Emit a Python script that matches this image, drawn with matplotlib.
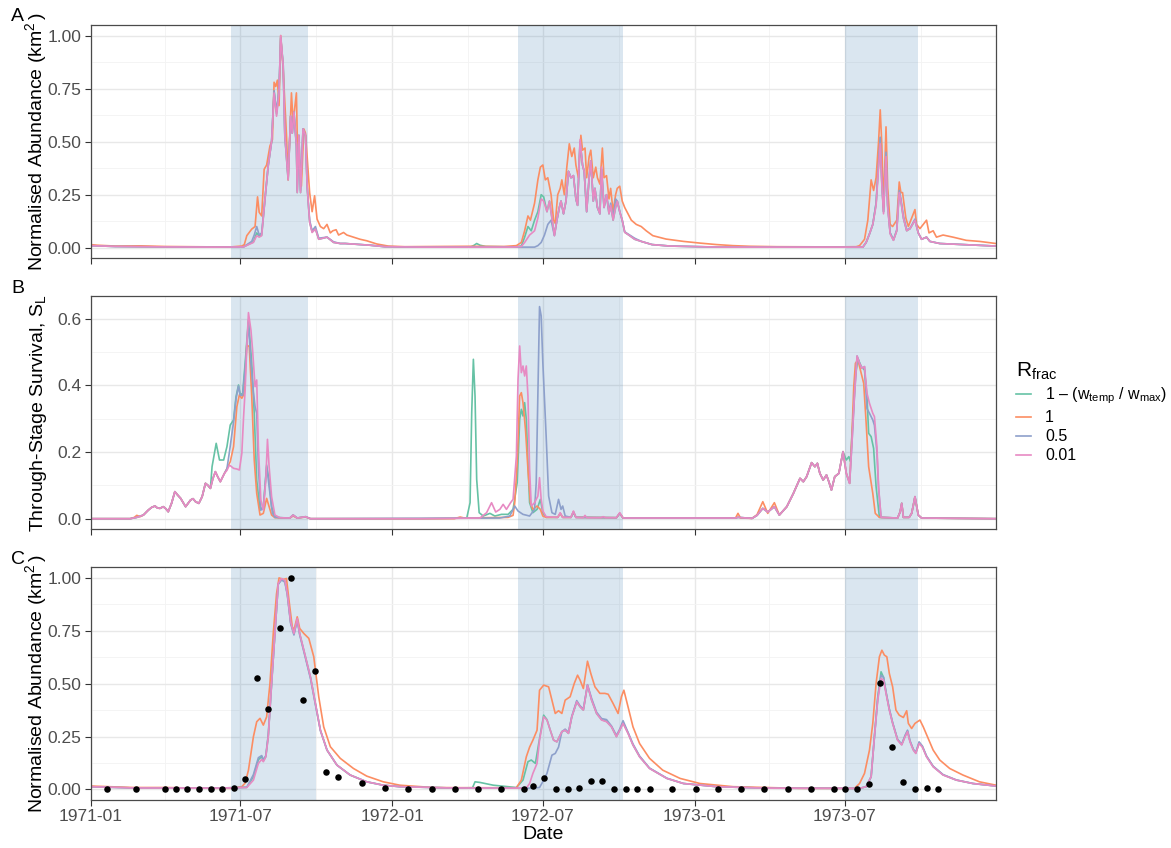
import numpy as np
import matplotlib
matplotlib.use("Agg")
import matplotlib.pyplot as plt
import matplotlib.dates as mdates

plt.rcParams['font.family'] = ['Liberation Sans', 'DejaVu Sans']
plt.rcParams['mathtext.fontset'] = 'custom'
plt.rcParams['mathtext.rm'] = 'Liberation Sans'
plt.rcParams['mathtext.it'] = 'Liberation Sans:italic'
plt.rcParams['mathtext.bf'] = 'Liberation Sans:bold'
plt.rcParams['mathtext.default'] = 'rm'

START = np.datetime64('1971-01-01')
END = np.datetime64('1973-12-31')

series_labels = ["1 – (w$_{temp}$ / w$_{max}$)", "1", "0.5", "0.01"]
series_colors = ["#66C2A5", "#FC8D62", "#8DA0CB", "#E78AC3"]

# shaded seasons (start, end)
seasons_ab = [("1971-06-20", "1971-09-21"), ("1972-06-01", "1972-10-06"), ("1973-07-01", "1973-09-28")]
seasons_c = [("1971-06-20", "1971-10-01"), ("1972-06-01", "1972-10-06"), ("1973-07-01", "1973-09-28")]

# ---------------- Panel A: normalised abundance (day since 1971-01-01, value) ----------------
a_orange = [(0,0.015),(8,0.012),(30,0.008),(60,0.009),(90,0.006),(120,0.005),(150,0.004),(170,0.004),(183,0.008),(186,0.015),(189,0.057),(195,0.088),(199,0.10),(202,0.24),(204,0.167),(207,0.15),(210,0.37),(213,0.39),(217,0.48),(220,0.51),(222,0.78),(224,0.76),(226,0.79),(228,0.67),(230,1.0),(233,0.84),(237,0.53),(239,0.32),(243,0.73),(245,0.59),(249,0.73),(250,0.53),(253,0.39),(255,0.29),(258,0.56),(260,0.54),(262,0.43),(265,0.26),(268,0.17),(271,0.245),(274,0.135),(278,0.10),(282,0.09),(286,0.11),(290,0.07),(293,0.08),(297,0.085),(300,0.06),(306,0.072),(310,0.06),(318,0.05),(326,0.04),(334,0.033),(346,0.018),(360,0.008),(380,0.005),(420,0.006),(460,0.007),(500,0.006),(515,0.01),(521,0.025),(525,0.08),(529,0.15),(532,0.13),(537,0.21),(541,0.32),(544,0.38),(547,0.39),(550,0.32),(553,0.33),(557,0.25),(560,0.13),(562,0.115),(565,0.25),(568,0.28),(570,0.32),(573,0.25),(576,0.38),(579,0.49),(582,0.43),(585,0.47),(587,0.39),(590,0.33),(593,0.53),(595,0.46),(598,0.47),(600,0.33),(603,0.43),(605,0.46),(608,0.33),(611,0.38),(613,0.33),(616,0.30),(619,0.47),(621,0.33),(624,0.34),(627,0.23),(629,0.28),(632,0.17),(635,0.25),(637,0.28),(640,0.29),(643,0.22),(646,0.19),(650,0.16),(654,0.13),(660,0.11),(666,0.10),(672,0.08),(680,0.057),(696,0.041),(717,0.03),(737,0.022),(757,0.015),(777,0.01),(797,0.007),(830,0.005),(900,0.004),(926,0.005),(930,0.01),(936,0.04),(940,0.13),(944,0.32),(947,0.27),(950,0.33),(953,0.5),(955,0.65),(957,0.48),(959,0.19),(962,0.57),(964,0.285),(967,0.11),(970,0.10),(975,0.13),(978,0.31),(980,0.26),(982,0.26),(986,0.14),(989,0.10),(993,0.14),(997,0.18),(999,0.11),(1003,0.09),(1007,0.11),(1011,0.13),(1014,0.07),(1019,0.08),(1023,0.05),(1031,0.06),(1043,0.05),(1059,0.035),(1075,0.03),(1095,0.02)]

a_pink = [(0,0.01),(30,0.006),(90,0.004),(150,0.003),(185,0.004),(197,0.025),(201,0.057),(204,0.05),(207,0.057),(211,0.23),(215,0.39),(219,0.5),(222,0.73),(225,0.62),(228,0.73),(230,1.0),(233,0.86),(235,0.53),(239,0.32),(242,0.62),(244,0.54),(246,0.64),(249,0.48),(250,0.26),(252,0.53),(254,0.26),(257,0.56),(260,0.53),(262,0.29),(265,0.12),(268,0.072),(272,0.088),(276,0.04),(286,0.05),(294,0.025),(302,0.02),(308,0.02),(338,0.012),(356,0.005),(400,0.003),(460,0.003),(510,0.003),(521,0.006),(525,0.025),(531,0.06),(537,0.08),(541,0.14),(545,0.23),(548,0.22),(552,0.17),(555,0.22),(558,0.14),(561,0.057),(564,0.13),(567,0.19),(569,0.22),(572,0.16),(575,0.22),(578,0.36),(581,0.33),(584,0.34),(587,0.23),(589,0.20),(592,0.51),(595,0.39),(597,0.36),(600,0.17),(603,0.33),(605,0.41),(608,0.22),(610,0.28),(613,0.19),(616,0.16),(618,0.38),(621,0.19),(624,0.25),(627,0.16),(629,0.20),(632,0.13),(635,0.19),(637,0.22),(640,0.17),(643,0.13),(646,0.073),(652,0.057),(658,0.04),(666,0.03),(679,0.015),(701,0.008),(761,0.003),(900,0.003),(934,0.003),(938,0.025),(942,0.065),(946,0.11),(950,0.2),(953,0.38),(955,0.49),(957,0.29),(959,0.16),(962,0.43),(964,0.19),(967,0.065),(971,0.035),(975,0.08),(978,0.26),(980,0.22),(983,0.14),(987,0.08),(991,0.09),(997,0.13),(1001,0.07),(1005,0.04),(1011,0.05),(1015,0.03),(1027,0.02),(1055,0.015),(1095,0.008)]

a_blue = [(0,0.01),(30,0.006),(90,0.004),(150,0.003),(185,0.004),(195,0.03),(198,0.06),(201,0.10),(204,0.06),(207,0.07),(211,0.23),(215,0.39),(219,0.5),(222,0.74),(225,0.64),(228,0.75),(230,0.99),(233,0.86),(235,0.53),(239,0.33),(242,0.62),(244,0.54),(246,0.64),(249,0.48),(250,0.27),(252,0.53),(254,0.27),(257,0.56),(260,0.53),(262,0.29),(265,0.13),(268,0.08),(272,0.10),(276,0.045),(286,0.05),(294,0.028),(302,0.02),(308,0.02),(338,0.012),(356,0.005),(400,0.003),(460,0.003),(537,0.003),(541,0.01),(545,0.025),(549,0.06),(553,0.11),(557,0.13),(561,0.057),(564,0.13),(567,0.19),(569,0.22),(572,0.16),(575,0.22),(578,0.36),(581,0.33),(584,0.34),(587,0.23),(589,0.20),(592,0.50),(595,0.39),(597,0.36),(600,0.17),(603,0.33),(605,0.41),(608,0.22),(610,0.28),(613,0.19),(616,0.16),(618,0.37),(621,0.19),(624,0.25),(627,0.17),(629,0.21),(632,0.14),(635,0.23),(637,0.22),(640,0.17),(643,0.13),(646,0.075),(652,0.06),(658,0.045),(666,0.03),(679,0.015),(701,0.008),(761,0.003),(900,0.003),(934,0.003),(938,0.025),(942,0.065),(946,0.11),(950,0.21),(953,0.40),(955,0.52),(957,0.30),(959,0.17),(962,0.45),(964,0.20),(967,0.07),(971,0.037),(975,0.085),(978,0.27),(980,0.23),(983,0.15),(987,0.085),(991,0.09),(997,0.135),(1001,0.07),(1005,0.04),(1011,0.05),(1015,0.03),(1027,0.02),(1055,0.015),(1095,0.008)]

a_green = [(0,0.01),(30,0.006),(90,0.004),(150,0.003),(185,0.004),(197,0.028),(201,0.07),(204,0.055),(207,0.06),(211,0.23),(215,0.39),(219,0.5),(222,0.74),(225,0.63),(228,0.74),(230,0.99),(233,0.86),(235,0.53),(239,0.32),(242,0.62),(244,0.54),(246,0.64),(249,0.48),(250,0.26),(252,0.53),(254,0.26),(257,0.56),(260,0.53),(262,0.29),(265,0.12),(268,0.075),(272,0.09),(276,0.04),(286,0.05),(294,0.025),(302,0.02),(308,0.02),(338,0.012),(356,0.005),(400,0.003),(460,0.004),(464,0.012),(467,0.02),(471,0.012),(478,0.006),(510,0.004),(521,0.008),(525,0.05),(529,0.10),(533,0.08),(537,0.13),(541,0.17),(545,0.25),(548,0.24),(552,0.17),(555,0.22),(558,0.14),(561,0.06),(564,0.13),(567,0.19),(569,0.22),(572,0.16),(575,0.22),(578,0.36),(581,0.33),(584,0.34),(587,0.23),(589,0.20),(592,0.50),(595,0.39),(597,0.36),(600,0.17),(603,0.33),(605,0.41),(608,0.22),(610,0.28),(613,0.19),(616,0.16),(618,0.37),(621,0.19),(624,0.25),(627,0.16),(629,0.20),(632,0.13),(635,0.19),(637,0.22),(640,0.17),(643,0.13),(646,0.073),(652,0.057),(658,0.04),(666,0.03),(679,0.015),(701,0.008),(761,0.003),(900,0.003),(934,0.003),(938,0.025),(942,0.065),(946,0.11),(950,0.21),(953,0.40),(955,0.52),(957,0.30),(959,0.17),(962,0.44),(964,0.20),(967,0.07),(971,0.036),(975,0.08),(978,0.27),(980,0.22),(983,0.14),(987,0.08),(991,0.09),(997,0.13),(1001,0.07),(1005,0.04),(1011,0.05),(1015,0.03),(1027,0.02),(1055,0.015),(1095,0.008)]

# ---------------- Panel B: through-stage survival ----------------
b_pink = [(0,0.0),(48,0.0),(56,0.004),(64,0.011),(70,0.026),(74,0.034),(78,0.038),(81,0.032),(84,0.031),(88,0.036),(91,0.03),(94,0.021),(98,0.046),(102,0.081),(105,0.072),(109,0.061),(115,0.036),(121,0.056),(124,0.06),(127,0.051),(131,0.046),(135,0.066),(139,0.106),(142,0.1),(145,0.091),(148,0.12),(151,0.141),(154,0.125),(157,0.111),(162,0.136),(165,0.145),(168,0.161),(171,0.155),(173,0.151),(177,0.149),(180,0.146),(183,0.196),(185,0.3),(187,0.386),(189,0.516),(191,0.618),(194,0.566),(196,0.506),(199,0.396),(201,0.416),(203,0.216),(206,0.056),(209,0.026),(212,0.116),(214,0.238),(216,0.156),(219,0.066),(223,0.011),(229,0.003),(241,0.002),(245,0.011),(250,0.002),(260,0.006),(266,0.0),(400,0.0),(471,0.002),(479,0.018),(485,0.048),(490,0.02),(495,0.028),(499,0.043),(503,0.028),(508,0.048),(511,0.058),(515,0.188),(517,0.418),(519,0.518),(521,0.438),(523,0.458),(525,0.428),(527,0.458),(529,0.368),(531,0.148),(533,0.038),(537,0.048),(541,0.068),(543,0.123),(545,0.058),(547,0.023),(551,0.006),(565,0.004),(568,0.018),(571,0.004),(581,0.004),(584,0.023),(587,0.004),(596,0.003),(598,0.01),(600,0.003),(617,0.003),(620,0.006),(623,0.003),(636,0.003),(640,0.018),(644,0.002),(780,0.002),(783,0.004),(800,0.001),(806,0.01),(813,0.031),(819,0.02),(827,0.036),(833,0.011),(842,0.036),(850,0.076),(858,0.121),(862,0.111),(866,0.126),(872,0.168),(876,0.156),(879,0.166),(882,0.136),(886,0.116),(890,0.131),(893,0.11),(896,0.086),(900,0.126),(905,0.136),(910,0.201),(914,0.136),(918,0.106),(921,0.236),(924,0.376),(927,0.488),(930,0.466),(933,0.451),(936,0.456),(939,0.376),(942,0.346),(946,0.316),(948,0.306),(951,0.216),(953,0.096),(956,0.004),(976,0.002),(979,0.02),(981,0.046),(983,0.004),(990,0.004),(993,0.016),(995,0.04),(997,0.066),(1001,0.011),(1005,0.002),(1095,0.0)]

b_orange = [(0,0.0),(48,0.0),(53,0.004),(56,0.01),(60,0.006),(64,0.011),(70,0.026),(74,0.034),(78,0.038),(81,0.032),(84,0.031),(88,0.036),(91,0.03),(94,0.021),(98,0.046),(102,0.081),(105,0.072),(109,0.061),(115,0.036),(121,0.056),(124,0.06),(127,0.051),(131,0.046),(135,0.066),(139,0.106),(142,0.1),(145,0.091),(148,0.12),(151,0.141),(154,0.125),(157,0.111),(162,0.136),(165,0.15),(169,0.171),(173,0.216),(177,0.336),(180,0.371),(183,0.361),(186,0.376),(189,0.521),(192,0.516),(195,0.366),(198,0.176),(201,0.076),(205,0.011),(209,0.016),(213,0.061),(216,0.036),(219,0.011),(223,0.003),(241,0.002),(245,0.008),(250,0.002),(260,0.005),(266,0.0),(440,0.0),(447,0.005),(452,0.002),(505,0.004),(511,0.01),(513,0.048),(516,0.168),(519,0.368),(521,0.378),(523,0.348),(526,0.268),(529,0.148),(532,0.048),(535,0.028),(540,0.038),(544,0.028),(547,0.008),(551,0.004),(565,0.004),(568,0.016),(571,0.004),(581,0.004),(584,0.02),(587,0.004),(636,0.003),(640,0.016),(644,0.002),(780,0.002),(783,0.016),(786,0.002),(800,0.001),(806,0.012),(813,0.051),(819,0.016),(827,0.048),(833,0.011),(842,0.036),(850,0.076),(858,0.121),(862,0.111),(866,0.126),(872,0.168),(876,0.156),(879,0.166),(882,0.136),(886,0.116),(890,0.131),(893,0.11),(896,0.086),(900,0.126),(905,0.136),(910,0.201),(914,0.136),(918,0.106),(921,0.266),(923,0.396),(925,0.466),(928,0.476),(932,0.436),(935,0.406),(938,0.286),(941,0.156),(946,0.076),(949,0.016),(954,0.004),(976,0.002),(979,0.02),(981,0.046),(983,0.004),(990,0.004),(993,0.016),(995,0.04),(997,0.066),(1001,0.011),(1005,0.002),(1095,0.0)]

b_blue = [(0,0.0),(48,0.0),(56,0.004),(64,0.011),(70,0.026),(74,0.034),(78,0.038),(81,0.032),(84,0.031),(88,0.036),(91,0.03),(94,0.021),(98,0.046),(102,0.081),(105,0.072),(109,0.061),(115,0.036),(121,0.056),(124,0.06),(127,0.051),(131,0.046),(135,0.066),(139,0.106),(142,0.1),(145,0.091),(148,0.12),(151,0.141),(154,0.125),(157,0.111),(162,0.136),(165,0.15),(168,0.2),(173,0.29),(176,0.36),(179,0.398),(181,0.37),(184,0.37),(187,0.45),(191,0.59),(194,0.466),(197,0.38),(199,0.336),(201,0.316),(203,0.156),(206,0.026),(209,0.03),(213,0.161),(216,0.096),(220,0.016),(223,0.004),(229,0.003),(241,0.002),(245,0.011),(250,0.002),(260,0.006),(266,0.0),(495,0.002),(507,0.008),(513,0.038),(517,0.023),(523,0.013),(531,0.008),(537,0.028),(539,0.108),(541,0.368),(543,0.636),(545,0.608),(547,0.468),(551,0.248),(554,0.068),(558,0.018),(562,0.013),(566,0.058),(569,0.028),(571,0.038),(574,0.008),(581,0.004),(584,0.02),(587,0.004),(636,0.003),(640,0.016),(644,0.002),(780,0.002),(783,0.004),(800,0.001),(806,0.01),(813,0.031),(819,0.02),(827,0.036),(833,0.011),(842,0.036),(850,0.076),(858,0.121),(862,0.111),(866,0.126),(872,0.168),(876,0.156),(879,0.166),(882,0.136),(886,0.116),(890,0.131),(893,0.11),(896,0.086),(900,0.126),(905,0.136),(910,0.201),(914,0.136),(918,0.106),(921,0.236),(924,0.376),(927,0.488),(930,0.466),(933,0.451),(936,0.456),(939,0.33),(942,0.316),(946,0.296),(948,0.28),(951,0.2),(953,0.09),(956,0.004),(976,0.002),(979,0.02),(981,0.046),(983,0.004),(990,0.004),(993,0.016),(995,0.04),(997,0.066),(1001,0.011),(1005,0.002),(1095,0.0)]

b_green = [(0,0.0),(48,0.0),(56,0.004),(64,0.011),(70,0.026),(74,0.034),(78,0.038),(81,0.032),(84,0.031),(88,0.036),(91,0.03),(94,0.021),(98,0.046),(102,0.081),(105,0.072),(109,0.061),(115,0.036),(121,0.056),(124,0.06),(127,0.051),(131,0.046),(135,0.066),(139,0.106),(142,0.1),(145,0.091),(147,0.156),(152,0.226),(156,0.176),(161,0.176),(165,0.216),(169,0.281),(173,0.296),(176,0.366),(179,0.401),(181,0.371),(184,0.376),(187,0.466),(191,0.596),(195,0.466),(198,0.316),(201,0.116),(205,0.026),(209,0.036),(213,0.156),(216,0.116),(219,0.036),(223,0.006),(229,0.003),(241,0.002),(245,0.011),(250,0.002),(260,0.006),(266,0.0),(400,0.0),(455,0.002),(459,0.048),(461,0.318),(463,0.478),(465,0.368),(467,0.118),(470,0.018),(475,0.008),(483,0.016),(489,0.008),(497,0.013),(505,0.013),(511,0.028),(516,0.108),(519,0.298),(521,0.328),(523,0.308),(525,0.348),(527,0.298),(529,0.168),(531,0.048),(535,0.018),(540,0.028),(544,0.058),(547,0.018),(551,0.004),(565,0.004),(568,0.016),(571,0.004),(581,0.004),(584,0.02),(587,0.004),(636,0.003),(640,0.016),(644,0.002),(780,0.002),(783,0.004),(800,0.001),(806,0.01),(813,0.031),(819,0.02),(827,0.036),(833,0.011),(842,0.036),(850,0.076),(858,0.121),(862,0.111),(866,0.126),(872,0.168),(876,0.156),(879,0.166),(882,0.136),(886,0.116),(890,0.131),(893,0.11),(896,0.086),(900,0.126),(905,0.136),(910,0.201),(914,0.176),(917,0.186),(919,0.171),(922,0.296),(925,0.426),(928,0.481),(932,0.456),(936,0.446),(939,0.366),(941,0.256),(944,0.246),(947,0.211),(950,0.096),(954,0.004),(976,0.002),(979,0.02),(981,0.046),(983,0.004),(990,0.004),(993,0.016),(995,0.04),(997,0.066),(1001,0.011),(1005,0.002),(1095,0.0)]

# ---------------- Panel C: smoothed normalised abundance ----------------
c_orange = [(0,0.016),(52,0.009),(92,0.009),(133,0.006),(169,0.005),(183,0.013),(187,0.03),(191,0.091),(194,0.17),(197,0.249),(201,0.32),(205,0.336),(209,0.304),(213,0.343),(217,0.50),(221,0.737),(225,0.926),(228,1.0),(233,0.992),(237,0.997),(240,0.895),(244,0.769),(246,0.753),(250,0.816),(253,0.761),(258,0.737),(264,0.714),(270,0.627),(276,0.438),(282,0.296),(290,0.202),(302,0.147),(318,0.099),(334,0.063),(354,0.036),(374,0.02),(414,0.009),(455,0.008),(515,0.008),(521,0.044),(527,0.154),(531,0.2),(535,0.233),(540,0.28),(543,0.469),(548,0.493),(554,0.485),(558,0.422),(562,0.359),(566,0.372),(570,0.359),(574,0.422),(580,0.438),(585,0.501),(589,0.54),(592,0.517),(596,0.477),(601,0.606),(605,0.548),(610,0.485),(616,0.454),(622,0.454),(626,0.45),(632,0.406),(638,0.359),(642,0.438),(645,0.469),(650,0.391),(656,0.296),(664,0.217),(676,0.147),(692,0.091),(713,0.052),(737,0.028),(777,0.013),(817,0.009),(858,0.005),(924,0.005),(930,0.028),(936,0.076),(942,0.186),(946,0.312),(950,0.501),(954,0.627),(957,0.658),(960,0.635),(963,0.627),(966,0.548),(970,0.485),(974,0.375),(978,0.351),(983,0.34),(987,0.372),(989,0.312),(993,0.288),(997,0.312),(1003,0.328),(1007,0.296),(1013,0.241),(1019,0.186),(1027,0.139),(1039,0.099),(1055,0.068),(1075,0.036),(1095,0.02)]

c_pink = [(0,0.013),(52,0.007),(150,0.006),(189,0.009),(197,0.044),(203,0.123),(207,0.142),(209,0.131),(212,0.154),(215,0.249),(219,0.50),(223,0.737),(227,0.973),(231,0.997),(235,0.989),(238,0.926),(242,0.792),(246,0.737),(250,0.808),(253,0.737),(260,0.627),(266,0.532),(272,0.406),(278,0.28),(286,0.186),(298,0.115),(314,0.068),(334,0.036),(354,0.02),(374,0.013),(435,0.007),(521,0.006),(527,0.006),(531,0.028),(535,0.076),(540,0.123),(543,0.233),(548,0.343),(552,0.328),(556,0.28),(560,0.233),(564,0.225),(567,0.249),(570,0.273),(574,0.28),(578,0.265),(582,0.343),(588,0.414),(592,0.391),(596,0.375),(601,0.493),(606,0.422),(612,0.359),(618,0.328),(624,0.32),(630,0.296),(636,0.249),(640,0.28),(644,0.312),(650,0.265),(656,0.21),(664,0.154),(676,0.099),(697,0.052),(717,0.028),(757,0.013),(817,0.006),(930,0.005),(938,0.013),(944,0.06),(948,0.249),(952,0.422),(956,0.525),(959,0.517),(962,0.454),(966,0.375),(970,0.312),(976,0.233),(981,0.21),(985,0.249),(988,0.273),(991,0.225),(995,0.186),(998,0.17),(1002,0.217),(1006,0.2),(1011,0.154),(1019,0.107),(1031,0.068),(1047,0.044),(1067,0.028),(1095,0.016)]

c_blue = [(0,0.013),(52,0.007),(150,0.006),(189,0.01),(197,0.07),(203,0.15),(207,0.16),(209,0.14),(212,0.16),(215,0.26),(219,0.50),(223,0.737),(227,0.97),(231,0.99),(235,0.98),(238,0.92),(242,0.785),(246,0.73),(250,0.80),(253,0.73),(260,0.62),(266,0.525),(272,0.40),(278,0.278),(286,0.186),(298,0.115),(314,0.068),(334,0.036),(354,0.02),(374,0.013),(435,0.007),(531,0.006),(543,0.009),(548,0.044),(552,0.076),(558,0.162),(562,0.17),(566,0.2),(570,0.273),(574,0.285),(578,0.27),(582,0.345),(588,0.42),(592,0.395),(596,0.38),(601,0.495),(606,0.43),(612,0.365),(618,0.335),(624,0.33),(630,0.30),(636,0.255),(640,0.285),(644,0.325),(650,0.27),(656,0.215),(664,0.158),(676,0.101),(697,0.053),(717,0.028),(757,0.013),(817,0.006),(930,0.005),(938,0.013),(944,0.06),(948,0.25),(952,0.43),(956,0.54),(959,0.53),(962,0.46),(966,0.38),(970,0.316),(976,0.236),(981,0.214),(985,0.255),(988,0.28),(991,0.23),(995,0.19),(998,0.175),(1002,0.225),(1006,0.205),(1011,0.158),(1019,0.11),(1031,0.07),(1047,0.045),(1067,0.028),(1095,0.016)]

c_green = [(0,0.013),(52,0.007),(150,0.006),(189,0.01),(197,0.06),(203,0.14),(207,0.155),(209,0.135),(212,0.155),(215,0.255),(219,0.50),(223,0.737),(227,0.97),(231,0.995),(235,0.985),(238,0.925),(242,0.79),(246,0.735),(250,0.805),(253,0.735),(260,0.625),(266,0.53),(272,0.405),(278,0.28),(286,0.186),(298,0.115),(314,0.068),(334,0.036),(354,0.02),(374,0.013),(435,0.007),(462,0.008),(465,0.036),(471,0.033),(487,0.02),(515,0.009),(523,0.044),(529,0.131),(533,0.139),(538,0.123),(542,0.217),(548,0.351),(552,0.33),(556,0.28),(560,0.233),(564,0.225),(567,0.249),(570,0.273),(574,0.28),(578,0.265),(582,0.343),(588,0.414),(592,0.391),(596,0.375),(601,0.493),(606,0.422),(612,0.359),(618,0.33),(624,0.322),(630,0.296),(636,0.25),(640,0.28),(644,0.315),(650,0.267),(656,0.21),(664,0.155),(676,0.1),(697,0.052),(717,0.028),(757,0.013),(817,0.006),(930,0.005),(938,0.013),(944,0.06),(948,0.25),(952,0.435),(956,0.556),(959,0.53),(962,0.46),(966,0.378),(970,0.314),(976,0.235),(981,0.212),(985,0.252),(988,0.276),(991,0.228),(995,0.188),(998,0.172),(1002,0.22),(1006,0.202),(1011,0.156),(1019,0.108),(1031,0.069),(1047,0.044),(1067,0.028),(1095,0.016)]

# observed abundance (day since 1971-01-01, normalised value)
obs_day = [20,55,90,103,117,131,146,159,173,187,201,215,229,243,257,271,285,299,328,356,384,413,441,468,496,524,535,549,563,577,591,605,619,633,647,661,677,703,732,759,787,815,844,871,899,913,927,941,955,969,983,997,1011,1025]
obs_val = [0.0,0.0,0.003,0.003,0.003,0.002,0.002,0.002,0.006,0.047,0.528,0.381,0.764,1.0,0.422,0.559,0.08,0.057,0.028,0.006,0.0,0.0,0.0,0.0,0.0,0.0,0.016,0.055,0.003,0.0,0.009,0.041,0.038,0.0,0.0,0.003,0.0,0.0,0.0,0.0,0.0,0.0,0.0,0.0,0.0,0.0,0.0,0.025,0.504,0.202,0.033,0.0,0.006,0.0]


def to_series(pairs):
    days, vals = zip(*pairs)
    return START + np.array(days).astype('timedelta64[D]'), np.array(vals)


def expand(values, frac=0.05):
    lo, hi = min(values), max(values)
    pad = (hi - lo) * frac
    return lo - pad, hi + pad


W, H = 1171, 848
fig = plt.figure(figsize=(W / 100, H / 100), dpi=100)
left = 90.5 / W
width = (996 - 90.5) / W
ax_a = fig.add_axes([left, 1 - 257.7 / H, width, (257.7 - 25) / H])
ax_b = fig.add_axes([left, 1 - 529.3 / H, width, (529.3 - 296) / H])
ax_c = fig.add_axes([left, 1 - 800 / H, width, (800 - 567.3) / H])

panels = [
    (ax_a, [a_green, a_orange, a_blue, a_pink], seasons_ab,
     'Normalised Abundance (km$^{2}\\,$)', [0, 0.25, 0.5, 0.75, 1.0], '%.2f'),
    (ax_b, [b_green, b_orange, b_blue, b_pink], seasons_ab,
     'Through-Stage Survival, S$_{L}$', [0, 0.2, 0.4, 0.6], '%.1f'),
    (ax_c, [c_green, c_orange, c_blue, c_pink], seasons_c,
     'Normalised Abundance (km$^{2}\\,$)', [0, 0.25, 0.5, 0.75, 1.0], '%.2f'),
]

legend_handles = None
for ax, series, seasons, ylabel, yticks, fmt in panels:
    for s0, s1 in seasons:
        ax.axvspan(np.datetime64(s0), np.datetime64(s1), color='#4682b4', alpha=0.2, lw=0, zorder=1)
    handles = []
    all_vals = []
    for pairs, col, lab in zip(series, series_colors, series_labels):
        d, v = to_series(pairs)
        all_vals.extend(v)
        ln, = ax.plot(d, v, color=col, lw=1.2, label=lab, zorder=3, solid_joinstyle='round')
        handles.append(ln)
    if ax is ax_b:
        legend_handles = handles
    if ax is ax_c:
        all_vals.extend(obs_val)
        od = START + np.array(obs_day).astype('timedelta64[D]')
        ax.scatter(od, obs_val, s=22, color='black', zorder=5, lw=0)

    ax.set_xlim(START, END)
    ax.set_ylim(*expand(all_vals))
    ax.set_yticks(yticks)
    step = yticks[1] - yticks[0]
    ax.set_yticks([t + step / 2 for t in yticks[:-1]], minor=True)
    ax.yaxis.set_major_formatter(matplotlib.ticker.FormatStrFormatter(fmt))
    ax.xaxis.set_major_locator(mdates.MonthLocator(bymonth=[1, 7]))
    ax.xaxis.set_minor_locator(mdates.MonthLocator(bymonth=[4, 10]))
    ax.xaxis.set_major_formatter(mdates.DateFormatter('%Y-%m'))
    ax.set_axisbelow(True)
    ax.grid(which='major', color='#e8e8e8', lw=1.0, zorder=0)
    ax.grid(which='minor', color='#f3f3f3', lw=0.6, zorder=0)
    ax.tick_params(which='minor', length=0)
    ax.tick_params(which='major', length=4, width=0.8, color='#333333',
                   labelsize=12.5, labelcolor='#4d4d4d', pad=2.5)
    for sp in ax.spines.values():
        sp.set_color('#4a4a4a')
        sp.set_linewidth(0.9)
        sp.set_zorder(6)
    ax.set_ylabel(ylabel, fontsize=14, color='black')
    ax.yaxis.set_label_coords(-0.046, 0.5)
    if ax is not ax_c:
        ax.tick_params(labelbottom=False)

ax_c.set_xlabel('Date', fontsize=14, color='black')
ax_c.xaxis.set_label_coords(0.5, -0.11)

for letter, ypx in [('A', 8), ('B', 280), ('C', 551)]:
    fig.text(11 / W, 1 - ypx / H, letter, fontsize=14, va='top', ha='left')

leg = fig.legend(handles=legend_handles, labels=series_labels, title='R$_{frac}$',
                 loc='upper left', bbox_to_anchor=(1010 / W, 1 - 354 / H),
                 frameon=False, fontsize=11.5, title_fontsize=15,
                 handlelength=0.9, handletextpad=0.9, labelspacing=0.25,
                 alignment='left', borderaxespad=0)

fig.savefig('out.png', dpi=100)
